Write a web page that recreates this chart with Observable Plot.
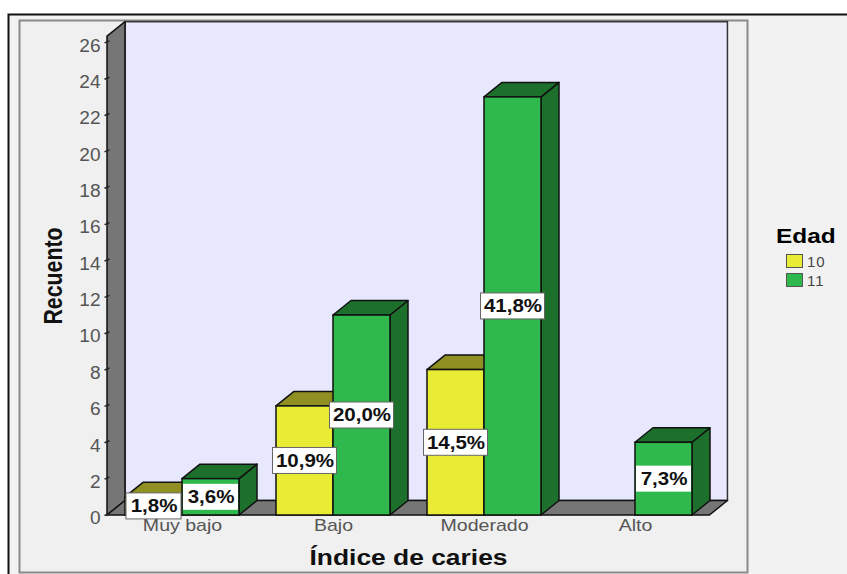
<!DOCTYPE html>
<html><head><meta charset="utf-8">
<script src="https://cdn.jsdelivr.net/npm/d3@7"></script>
<script src="https://cdn.jsdelivr.net/npm/@observablehq/plot@0.6"></script>
<style>
html,body{margin:0;padding:0;background:#fff}
#wrap{position:relative;width:847px;height:574px;overflow:hidden;font-family:"Liberation Sans",Arial,sans-serif}
#legend{position:absolute;left:776px;top:225px;width:70px;color:#444}
#legend .t{font-weight:bold;font-size:20px;color:#000;line-height:22px;transform:scaleX(1.22);transform-origin:left;white-space:nowrap}
#legend .r{position:absolute;left:10px;font-size:15px;line-height:15px;letter-spacing:1px;white-space:nowrap}
#legend .r i{display:inline-block;width:15px;height:12px;border:1.5px solid #555;vertical-align:-1px;margin-right:4px}
</style></head><body>
<div id="wrap"><div id="chart"></div>
<div id="legend"><div class="t">Edad</div>
<div class="r" style="top:29px"><i style="background:#E9EC35"></i>10</div>
<div class="r" style="top:48px"><i style="background:#2FB84C"></i>11</div></div></div>
<script>
const categories = ["Muy bajo","Bajo","Moderado","Alto"];
const edad10 = [1,6,8,0];
const edad11 = [2,11,23,4];
const pct10 = ["1,8%","10,9%","14,5%",""];
const pct11 = ["3,6%","20,0%","41,8%","7,3%"];
const yTicks = d3.range(0,27,2);
const yellow="#E9EC35", yellowTop="#8F8F22", green="#2FB84C", greenDark="#1D702C";

// scale units
const xMin=-0.4967, xMax=4.404, yMax=28.33;
const barW=0.3775, depX=0.1192, depY=0.7976, wallTop=26.34, floorEnd=3.493;
const boxH=1.43;

const bars=[];
categories.forEach((c,i)=>{
  if(edad10[i]>0) bars.push({id:"a"+i,x1:i-barW,x2:i,v:edad10[i],label:pct10[i],fill:yellow,top:yellowTop,side:yellowTop});
  if(edad11[i]>0) bars.push({id:"b"+i,x1:i,x2:i+barW,v:edad11[i],label:pct11[i],fill:green,top:greenDark,side:greenDark});
});
const stroke="#111";
const barMarks=[];
for(const b of bars){
  barMarks.push(Plot.areaY([{x:b.x2,lo:0,hi:b.v},{x:b.x2+depX,lo:depY,hi:b.v+depY}],{x:"x",y1:"lo",y2:"hi",fill:b.side,stroke,strokeWidth:1.5}));
  barMarks.push(Plot.areaX([{y:b.v,a:b.x1,c:b.x2},{y:b.v+depY,a:b.x1+depX,c:b.x2+depX}],{y:"y",x1:"a",x2:"c",fill:b.top,stroke,strokeWidth:1.5}));
  barMarks.push(Plot.rect([b],{x1:"x1",x2:"x2",y1:()=>0,y2:"v",fill:b.fill,stroke,strokeWidth:1.5}));
}
const halfW=d=>(d.label.length>4?32:27.5)/151;
const labelled=bars;
const cx=d=>(d.x1+d.x2)/2;
const plot=Plot.plot({
  width:847,height:574,marginLeft:107,marginRight:0,marginTop:0,marginBottom:59,
  style:{fontFamily:'"Liberation Sans",Arial,sans-serif',background:"transparent",overflow:"visible"},
  x:{type:"linear",domain:[xMin,xMax],range:[107,847],axis:null},
  y:{type:"linear",domain:[0,yMax],range:[515,0],axis:null},
  marks:[
    Plot.frame({fill:"#F2F2F2",stroke:"#111",strokeWidth:2,insetLeft:-99,insetTop:14,insetRight:-6,insetBottom:-70}),
    Plot.frame({fill:"#F0F0F0",stroke:"#8a8a8a",strokeWidth:2,insetLeft:-88,insetTop:20,insetRight:100,insetBottom:-57}),
    Plot.rect([0],{x1:()=>xMin+depX,x2:()=>floorEnd+depX,y1:()=>depY,y2:()=>wallTop+depY,fill:"#E7E7FE",stroke:"#333",strokeWidth:1.5}),
    Plot.areaY([{x:xMin,a:0,b:wallTop},{x:xMin+depX,a:depY,b:wallTop+depY}],{x:"x",y1:"a",y2:"b",fill:"#767676",stroke:"#111",strokeWidth:1.5}),
    Plot.areaX([{y:0,a:xMin,b:floorEnd},{y:depY,a:xMin+depX,b:floorEnd+depX}],{y:"y",x1:"a",x2:"b",fill:"#767676",stroke:"#111",strokeWidth:1.5}),
    Plot.axisY({ticks:yTicks,tickSize:0,tickPadding:7,dy:3,fontSize:18,fill:"#555",label:null,tickFormat:d=>d}),
    Plot.link(yTicks,{x1:()=>xMin-3/151,x2:()=>xMin+2/151,y1:d=>d,y2:d=>d+0.11,stroke:"#222",strokeWidth:1.5}),
    Plot.axisX({ticks:[0,1,2,3],tickFormat:i=>categories[i],tickSize:0,tickPadding:3,fontSize:17,fill:"#555",label:null}),
    ...barMarks,
    Plot.rect(labelled,{x1:d=>cx(d)-halfW(d),x2:d=>cx(d)+halfW(d),y1:d=>d.v/2-boxH/2,y2:d=>d.v/2+boxH/2,fill:"#fff",stroke:d=>(d.label==="3,6%"||d.label==="7,3%")?"none":"#666",strokeWidth:1}),
    Plot.text(labelled,{x:cx,y:d=>d.v/2,text:"label",fontSize:18,fontWeight:"bold",fill:"#111"}),
    Plot.text(["Recuento"],{frameAnchor:"left",textAnchor:"middle",lineAnchor:"middle",dx:-54,dy:18,rotate:-90,fontSize:25,fontWeight:"bold",fill:"#111"}),
    Plot.text(["Índice de caries"],{frameAnchor:"bottom",textAnchor:"middle",lineAnchor:"middle",dx:-69,dy:42,fontSize:22,fontWeight:"bold",fill:"#111"})
  ]
});
document.getElementById("chart").append(plot);
// The reference's type is stretched sideways: widen each label along its baseline.
const stretch=t=>{
  const s=t.textContent;
  if(s==="Recuento") return 97/t.getComputedTextLength();
  if(s==="Índice de caries") return 198/t.getComputedTextLength();
  if(categories.includes(s)) return 1.15;
  if(s.endsWith("%")) return 1.14;
  return 1.06;
};
plot.querySelectorAll("text").forEach(t=>{
  t.setAttribute("textLength",t.getComputedTextLength()*stretch(t));
  t.setAttribute("lengthAdjust","spacingAndGlyphs");
});
</script></body></html>
